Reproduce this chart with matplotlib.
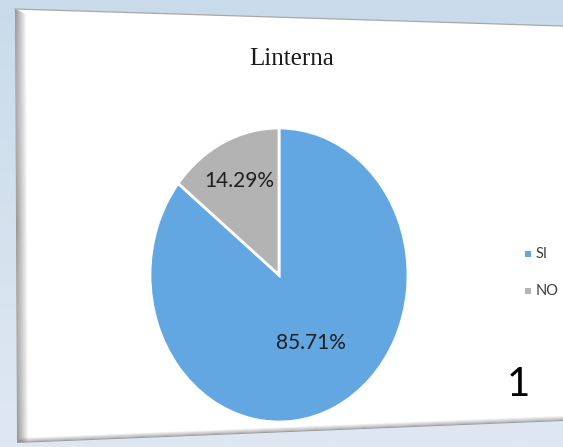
import numpy as np
import matplotlib.pyplot as plt
from matplotlib.patches import Polygon

title = "Linterna"
categories = ["SI", "NO"]
values = [85.71, 14.29]
colors = ["#62A6E2", "#B3B3B3"]
slide_number = "1"

W, H = 563, 447
fig = plt.figure(figsize=(W / 100, H / 100), dpi=100)

# background axes in pixel coordinates
bg = fig.add_axes([0, 0, 1, 1])
bg.set_xlim(0, W)
bg.set_ylim(H, 0)
bg.axis("off")
grad = np.linspace(0, 1, 256)[:, None]
top = np.array([0xC9, 0xDB, 0xEA]) / 255
bot = np.array([0xDF, 0xE8, 0xF2]) / 255
img = top[None, None, :] * (1 - grad[..., None]) + bot[None, None, :] * grad[..., None]
bg.imshow(img, extent=[0, W, H, 0], aspect="auto", zorder=0)

# card
card = Polygon([[15, 9], [W, 26], [W, 420], [17, 442]], closed=True,
               facecolor="white", edgecolor="none", zorder=2)
bg.add_patch(card)
# left shadow band
for i, a in enumerate(np.linspace(0.7, 0.0, 12)):
    bg.add_patch(Polygon([[15 + i, 9 + i * 0.5], [16 + i, 9 + i * 0.5], [18 + i, 442], [17 + i, 442]],
                         closed=True, facecolor="#6E6E6E", alpha=a, edgecolor="none", zorder=3))
# bottom shadow band
for i, a in enumerate(np.linspace(0.6, 0.0, 6)):
    bg.add_patch(Polygon([[17 + i, 442 - i], [W, 420 - i], [W, 421 - i], [17 + i, 443 - i]],
                         closed=True, facecolor="#6E6E6E", alpha=a, edgecolor="none", zorder=3))
bg.plot([15, W], [9, 26], color="#A8A8A8", lw=0.9, zorder=3)

bg.text(292, 59, title, ha="center", va="center", fontsize=18,
        family="Liberation Serif", color="#1a1a1a", zorder=4)
bg.text(518, 385, slide_number, ha="center", va="center", fontsize=29,
        family="Lato", color="black", zorder=4)

# legend
leg_y = [254, 291]
for c, lab, y in zip(colors, categories, leg_y):
    bg.add_patch(Polygon([[525, y - 3], [531, y - 3], [531, y + 3], [525, y + 3]],
                         closed=True, facecolor=c, edgecolor="none", zorder=4))
    bg.text(536, y, lab, ha="left", va="center", fontsize=10.5,
            family="Lato", color="#404040", zorder=4)

# pie (elliptical due to perspective)
cx, cy, rx, ry = 279, 275, 129, 147
ax = fig.add_axes([(cx - rx) / W, 1 - (cy + ry) / H, 2 * rx / W, 2 * ry / H])
wedges, texts, autotexts = ax.pie(values, colors=colors, startangle=90, counterclock=False,
                                  autopct="%.2f%%", pctdistance=0.71,
                                  wedgeprops=dict(edgecolor="white", linewidth=2))
ax.set_aspect("auto")
ax.set_xlim(-1, 1)
ax.set_ylim(-1, 1)
ax.axis("off")
for t in autotexts:
    t.set_fontsize(15)
    t.set_family("Lato")
    t.set_color("#1f1f1f")
autotexts[0].set_position((0.25, -0.46))

fig.savefig("out.png", dpi=100)
